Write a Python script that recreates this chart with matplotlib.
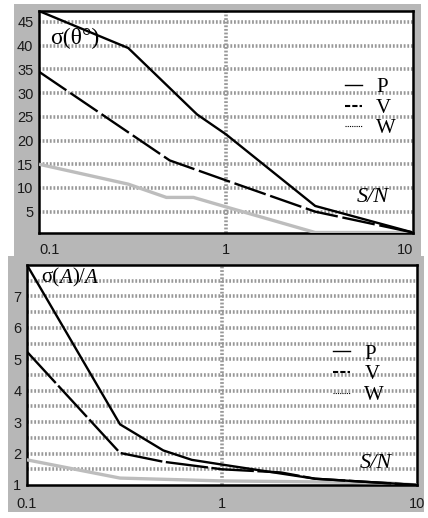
import matplotlib
matplotlib.use("Agg")
import matplotlib.pyplot as plt
from matplotlib.patches import Rectangle
from matplotlib.lines import Line2D

# ---- data ----
x_top = [0.1, 0.3, 0.7, 1, 3, 10]
p_top = [47.3, 39.5, 25.5, 21.3, 6.2, 0.6]
xv_top = [0.1, 0.5, 1, 3, 10]
v_top = [34.5, 15.8, 11.6, 5.0, 0.6]
xw_top = [0.1, 0.3, 0.48, 0.67, 1, 3, 10]
w_top = [15.0, 10.8, 8.0, 8.0, 6.0, 0.6, 0.6]

x_bot = [0.1, 0.3, 0.5, 0.7, 1, 3, 10]
p_bot = [8.0, 2.93, 2.1, 1.8, 1.65, 1.2, 1.0]
xv_bot = [0.1, 0.3, 0.5, 1, 2, 3, 10]
v_bot = [5.24, 2.02, 1.74, 1.5, 1.4, 1.2, 1.0]
xw_bot = [0.1, 0.3, 1, 3, 7, 10]
w_bot = [1.8, 1.22, 1.13, 1.1, 1.07, 1.0]

yt_top = [5, 10, 15, 20, 25, 30, 35, 40, 45]
yt_bot = [1, 2, 3, 4, 5, 6, 7]
xticks = [0.1, 1, 10]
xticklabels = ["0.1", "1", "10"]
legend_labels = ["P", "V", "W"]

W, H = 428, 518
fig = plt.figure(figsize=(W / 100, H / 100), dpi=100)
fig.patch.set_facecolor("white")

def frect(x0, y0, x1, y1):
    return [x0 / W, 1 - y1 / H, (x1 - x0) / W, (y1 - y0) / H]

gray = "#b7b7b7"
for r in (frect(14, 4, 421, 256), frect(8, 256, 424, 512)):
    fig.patches.append(Rectangle((r[0], r[1]), r[2], r[3], transform=fig.transFigure,
                                 facecolor=gray, edgecolor="none", zorder=-5))

ax1 = fig.add_axes(frect(39, 11, 413, 233))
ax2 = fig.add_axes(frect(27, 265, 417, 485))

serif = "Liberation Serif"
sans = "Liberation Sans"

def style(ax, ylim, yticks, grid_y, xpad):
    ax.set_facecolor("white")
    ax.set_xscale("log")
    ax.set_xlim(0.1, 10)
    ax.set_ylim(*ylim)
    for s in ax.spines.values():
        s.set_linewidth(1.8)
        s.set_color("black")
    for gy in grid_y:
        ax.axhline(gy, color="#989898", lw=2.6, ls=(0, (0.5, 0.5)), zorder=1)
    ax.axvline(1, color="#989898", lw=2.6, ls=(0, (0.5, 0.5)), zorder=1)
    ax.set_yticks(yticks)
    ax.set_yticklabels([str(t) for t in yticks], fontfamily=sans, fontsize=10.5, color="#1a1a1a")
    ax.set_xticks(xticks)
    ax.set_xticklabels(xticklabels, fontfamily=sans, fontsize=10.5, color="#1a1a1a")
    ax.xaxis.set_minor_locator(matplotlib.ticker.NullLocator())
    ax.tick_params(axis="both", length=0)
    ax.tick_params(axis="y", pad=4)
    ax.tick_params(axis="x", pad=xpad)

style(ax1, (0.5, 47.3), yt_top, [5, 10, 15, 20, 25, 30, 35, 40, 45], 7)
style(ax2, (1, 8), yt_bot, [1.5, 2, 2.5, 3, 3.5, 4, 4.5, 5, 5.5, 6, 6.5, 7, 7.5], 9)
tl = ax1.get_xticklabels()
tl[0].set_ha("left")
tl[-1].set_ha("right")

# lines
ax1.plot(xw_top, w_top, color="#bdbdbd", lw=2.4, zorder=3, solid_capstyle="butt")
ax1.plot(xv_top, v_top, color="black", lw=1.7, dashes=(14, 2), zorder=4)
ax1.plot(x_top, p_top, color="black", lw=1.7, zorder=5)

ax2.plot(xw_bot, w_bot, color="#bdbdbd", lw=2.4, zorder=3)
ax2.plot(xv_bot, v_bot, color="black", lw=1.7, dashes=(18, 1.5), zorder=4)
ax2.plot(x_bot, p_bot, color="black", lw=1.7, zorder=5)

handles = [Line2D([], [], color="black", lw=1.0),
           Line2D([], [], color="black", lw=1.5, dashes=(2.5, 1)),
           Line2D([], [], color="black", lw=0.8, dashes=(1, 1))]

for ax, anchor in ((ax1, (0.818, 0.70)), (ax2, (0.785, 0.64))):
    leg = ax.legend(handles, legend_labels, loc="upper left", bbox_to_anchor=anchor,
                    frameon=False, handlelength=0.8, handletextpad=0.7,
                    labelspacing=0.05, borderpad=0, borderaxespad=0,
                    prop={"family": serif, "size": 15})
    leg.set_zorder(6)

ax1.text(0.029, 0.875, "σ(θ°)", transform=ax1.transAxes, fontfamily=serif,
         fontsize=17, va="center", ha="left", zorder=6)
ax1.text(0.893, 0.162, "S/N", transform=ax1.transAxes, fontfamily=serif,
         fontstyle="italic", fontsize=16, va="center", ha="center", zorder=6)
ax2.text(0.895, 0.10, "S/N", transform=ax2.transAxes, fontfamily=serif,
         fontstyle="italic", fontsize=16, va="center", ha="center", zorder=6)

# sigma(A)/A with italic A, laid out piece by piece
fig.canvas.draw()
rend = fig.canvas.get_renderer()
axw = ax2.get_window_extent(renderer=rend).width
parts = [("σ(", "normal"), ("A", "italic"), (")/", "normal"), ("A", "italic")]
x = 0.036
for s, st in parts:
    tt = ax2.text(x, 0.94, s, transform=ax2.transAxes, fontfamily=serif,
                  fontstyle=st, fontsize=15, va="center", ha="left", zorder=6)
    x += tt.get_window_extent(renderer=rend).width / axw

fig.savefig("out.png", dpi=100, facecolor="white")
